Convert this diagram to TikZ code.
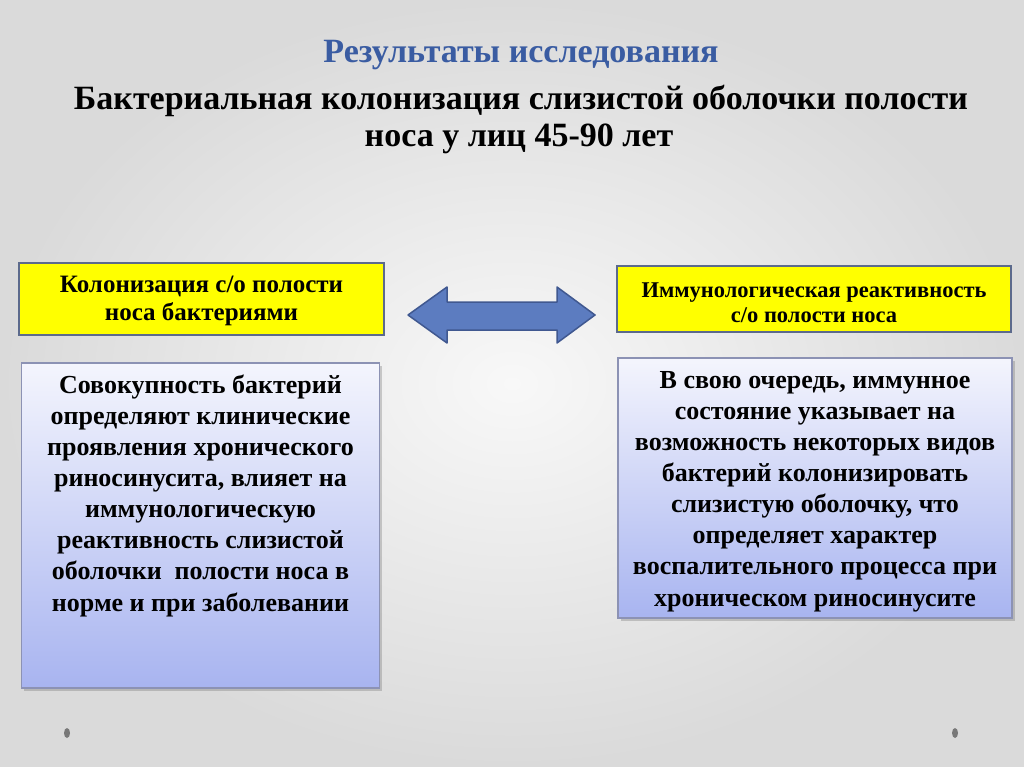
\documentclass[tikz,border=0pt]{standalone}
\usepackage{fontspec}
\setmainfont{Liberation Serif}
\usetikzlibrary{shadows}
\definecolor{titleblue}{RGB}{58,92,162}
\definecolor{ybord}{RGB}{92,106,140}
\definecolor{yfill}{RGB}{255,255,0}
\definecolor{arrowfill}{RGB}{92,124,192}
\definecolor{arrowbord}{RGB}{64,88,144}
\definecolor{bluetop}{RGB}{244,245,253}
\definecolor{bluebot}{RGB}{168,180,240}
\definecolor{bbord}{RGB}{140,146,180}
\definecolor{bgin}{RGB}{248,248,248}
\definecolor{bgout}{RGB}{218,218,218}
\definecolor{dotgray}{RGB}{120,120,120}
\tikzset{
  ybox/.style={draw=ybord, line width=2.2pt, fill=yfill, inner sep=0pt},
  bbox/.style={draw=bbord, line width=1.2pt, top color=bluetop, bottom color=bluebot, inner sep=0pt,
     drop shadow={shadow xshift=2.5pt, shadow yshift=-3pt, opacity=0.3, fill=black!60}},
  btext/.style={anchor=base, align=center, font=\bfseries\fontsize{26}{31.1}\selectfont, inner sep=0pt},
  ttext/.style={anchor=base, inner sep=0pt, font=\bfseries\fontsize{34}{40}\selectfont},
}
\begin{document}
\begin{tikzpicture}[x=1pt,y=-1pt]
\shade[inner color=bgin, outer color=bgout] (0,0) rectangle (1024,767);
\useasboundingbox (0,0) rectangle (1024,767);
% titles
\node[ttext, text=titleblue] (t1) at (521,63) {Результаты исследования};
\node[ttext] (t2) at (521,110) {Бактериальная колонизация слизистой оболочки полости};
\node[ttext] (t3) at (519,147) {носа у лиц 45-90 лет};
% yellow boxes
\node[ybox, minimum width=365pt, minimum height=72pt] (ly) at (201.5,299) {};
\node[anchor=base, align=center, inner sep=0pt, font=\bfseries\fontsize{25}{28}\selectfont] (lyt) at (201.5,320) {Колонизация с/о полости\\носа бактериями};
\node[ybox, minimum width=394pt, minimum height=66pt] (ry) at (814,299) {};
\node[anchor=base, align=center, inner sep=0pt, font=\bfseries\fontsize{22.5}{25}\selectfont] (ryt) at (814,322) {Иммунологическая реактивность\\с/о полости носа};
% double arrow
\draw[fill=arrowfill, draw=arrowbord, line width=1.5pt, line join=round]
  (408,315) -- (447,287) -- (447,302) -- (557,302) -- (557,287) -- (595,315)
  -- (557,343) -- (557,330) -- (447,330) -- (447,343) -- cycle;
% blue boxes
\node[bbox, minimum width=358pt, minimum height=325pt] (lb) at (200.5,525.5) {};
\node[btext] (lbt) at (200.5,611) {Совокупность бактерий\\определяют клинические\\проявления хронического\\риносинусита, влияет на\\иммунологическую\\реактивность слизистой\\оболочки\ \ полости носа в\\норме и при заболевании};
\node[bbox, minimum width=394pt, minimum height=260pt] (rb) at (815,488) {};
\node[btext] (rbt) at (815,606) {В свою очередь, иммунное\\состояние указывает на\\возможность некоторых видов\\бактерий колонизировать\\слизистую оболочку, что\\определяет характер\\воспалительного процесса при\\хроническом риносинусите};
% dots
\fill[dotgray] (67,733) ellipse (3 and 5);
\fill[dotgray] (955,733) ellipse (3 and 5);
\end{tikzpicture}
\end{document}
